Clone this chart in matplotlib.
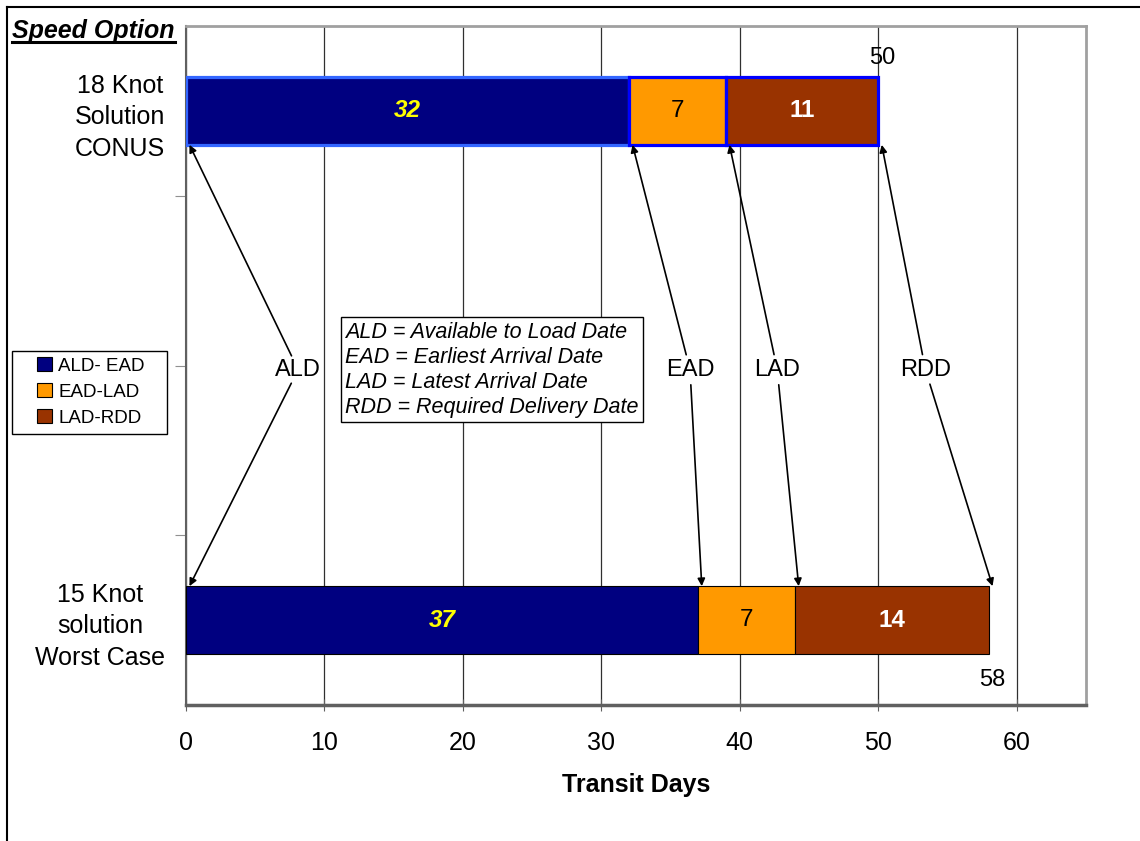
import matplotlib as mpl
import matplotlib.pyplot as plt
from matplotlib.patches import Patch, Rectangle
from matplotlib.lines import Line2D

mpl.rcParams.update({
    "font.family": "sans-serif",
    "font.sans-serif": ["Liberation Sans", "Arial", "DejaVu Sans"],
})

# ----- data -----
speed_options = ["18 Knot\nSolution\nCONUS", "15 Knot\nsolution\nWorst Case"]
row_slots = [3, 0]                 # Excel category slots (two empty slots between)
ald_ead = [32, 37]
ead_lad = [7, 7]
lad_rdd = [11, 14]
segment_names = ["ALD- EAD", "EAD-LAD", "LAD-RDD"]
seg_colors = ["#000080", "#FF9900", "#993300"]
date_names = ["ALD", "EAD", "LAD", "RDD"]
date_text_x = [8.1, 36.4, 42.7, 53.4]   # where the date labels sit (days)
glossary = ["ALD = Available to Load Date",
            "EAD = Earliest Arrival Date",
            "LAD = Latest Arrival Date",
            "RDD = Required Delivery Date"]
xticks = [0, 10, 20, 30, 40, 50, 60]

FS = 18

fig = plt.figure(figsize=(11.4, 8.41), dpi=100)
ax = fig.add_axes([186 / 1140, 1 - 705 / 841, 900 / 1140, 679 / 841])

bar_h = 0.4
segs = [ald_ead, ead_lad, lad_rdd]
for r, y in enumerate(row_slots):
    left = 0
    for s, vals in enumerate(segs):
        if y == 3:   # the highlighted (selected) row in the original
            ec = "#3366FF" if s == 0 else "#0000FF"
            lw = 2.3
        else:
            ec = "black"
            lw = 0.8
        ax.barh(y, vals[r], left=left, height=bar_h, color=seg_colors[s],
                edgecolor=ec, linewidth=lw, zorder=3)
        cx = left + vals[r] / 2
        if s == 0:
            ax.text(cx, y, str(vals[r]), color="#FFFF00", fontsize=17.5,
                    fontweight="bold", style="italic", ha="center", va="center", zorder=4)
        elif s == 1:
            ax.text(cx, y, str(vals[r]), color="black", fontsize=17.5,
                    ha="center", va="center", zorder=4)
        else:
            ax.text(cx, y, str(vals[r]), color="white", fontsize=17.5,
                    fontweight="bold", ha="center", va="center", zorder=4)
        left += vals[r]

# totals
tot_top = ald_ead[0] + ead_lad[0] + lad_rdd[0]
tot_bot = ald_ead[1] + ead_lad[1] + lad_rdd[1]
ax.text(tot_top + 0.3, 3.31, str(tot_top), fontsize=17, ha="center", va="center")
ax.text(tot_bot + 0.2, -0.35, str(tot_bot), fontsize=17, ha="center", va="center")

# date arrows
bounds_top = [0, ald_ead[0], ald_ead[0] + ead_lad[0], tot_top]
bounds_bot = [0, ald_ead[1], ald_ead[1] + ead_lad[1], tot_bot]
ty = 1.476
for name, tx, bt, bb in zip(date_names, date_text_x, bounds_top, bounds_bot):
    ax.text(tx, ty, name, fontsize=17, ha="center", va="center", zorder=5)
    for tip in [(bt + 0.25, 3 - bar_h / 2), (bb + 0.25, 0 + bar_h / 2)]:
        ax.annotate("", xy=tip, xytext=(tx, ty),
                    arrowprops=dict(arrowstyle="-|>", color="black", lw=1.2,
                                    shrinkA=11, shrinkB=0, mutation_scale=11),
                    zorder=5)

# glossary box
ax.text(11.5, ty, "\n".join(glossary), fontsize=15.5, style="italic",
        ha="left", va="center", linespacing=1.25, zorder=6,
        bbox=dict(boxstyle="square,pad=0.2", fc="white", ec="black", lw=1))

# axes
ax.set_xlim(0, 65)
ax.set_ylim(-0.5, 3.5)
ax.set_xticks(xticks)
ax.set_xticklabels([str(t) for t in xticks], fontsize=FS)
ax.tick_params(axis="x", direction="inout", length=8, color="#606060", pad=15)
ax.set_yticks([0.5, 1.5, 2.5])
ax.set_yticklabels([])
ax.tick_params(axis="y", which="major", direction="out", length=8, color="#909090")
ax.set_yticks(row_slots, speed_options, minor=True)
ax.tick_params(axis="y", which="minor", length=0, pad=15, labelsize=FS)
for lab in ax.get_yticklabels(minor=True):
    lab.set_multialignment("center")
    lab.set_linespacing(1.4)
ax.grid(axis="x", color="#303030", lw=0.9, zorder=1)
ax.set_axisbelow(True)
ax.set_xlabel("Transit Days", fontsize=FS, fontweight="bold", labelpad=13)

ax.spines["top"].set_color("#A0A0A0")
ax.spines["top"].set_linewidth(2)
ax.spines["right"].set_color("#A0A0A0")
ax.spines["right"].set_linewidth(2)
ax.spines["left"].set_color("#606060")
ax.spines["left"].set_linewidth(1.5)
ax.spines["bottom"].set_color("#606060")
ax.spines["bottom"].set_linewidth(2.5)

# legend (frame drawn separately to get Excel's wide side padding)
handles = [Patch(facecolor=c, edgecolor="black", lw=0.8) for c in seg_colors]
fig.legend(handles, segment_names, loc="center",
           bbox_to_anchor=(91 / 1140, 1 - 392 / 841), fontsize=13.5,
           frameon=False, handlelength=0.75, handleheight=0.75,
           handletextpad=0.35, labelspacing=0.45, borderpad=0.2)
fig.add_artist(Rectangle((12 / 1140, 1 - 434 / 841), 155 / 1140, 83 / 841,
                         transform=fig.transFigure, fill=False,
                         edgecolor="black", lw=1))

# title with underline
t = fig.text(12 / 1140, 1 - 31 / 841, "Speed Option", fontsize=18,
             fontweight="bold", style="italic", ha="left", va="center")
fig.canvas.draw()
bbx = t.get_window_extent().transformed(fig.transFigure.inverted())
fig.add_artist(Line2D([bbx.x0, bbx.x1], [bbx.y0 + 0.001, bbx.y0 + 0.001],
                      transform=fig.transFigure, color="black", lw=2.2))

# outer chart frame (top and left edges visible)
fig.add_artist(Line2D([7 / 1140, 7 / 1140], [0, 1 - 7 / 841],
                      transform=fig.transFigure, color="black", lw=1.5))
fig.add_artist(Line2D([7 / 1140, 1], [1 - 7 / 841, 1 - 7 / 841],
                      transform=fig.transFigure, color="black", lw=1.5))

fig.savefig("out.png", dpi=100)
